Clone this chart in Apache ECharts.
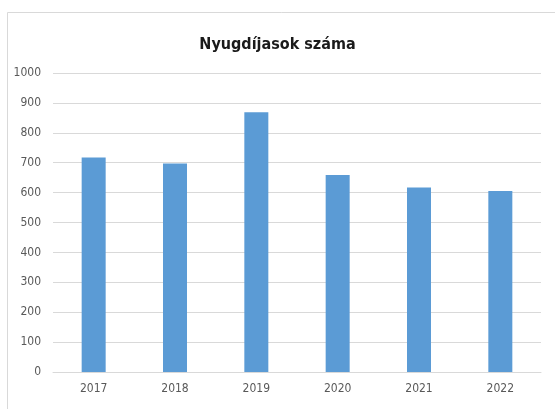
<!DOCTYPE html>
<html>
<head>
<meta charset="utf-8">
<script src="https://cdn.jsdelivr.net/npm/echarts@6/dist/echarts.min.js"></script>
<style>
  html, body { margin: 0; padding: 0; background: #fff; }
  #chart { width: 555px; height: 409px; }
</style>
</head>
<body>
<div id="chart"></div>
<script>
var years = ['2017', '2018', '2019', '2020', '2021', '2022'];
var values = [717, 697, 869, 659, 617, 605];

var font = "'Liberation Sans Narrow', 'DejaVu Sans Condensed', sans-serif";
var myChart = echarts.init(document.getElementById('chart'));
var option = {
  animation: false,
  backgroundColor: '#fff',
  title: {
    text: 'Nyugdíjasok száma',
    left: 'center',
    top: 32,
    textStyle: { fontFamily: font, fontSize: 16, fontWeight: 'bold', color: '#1a1a1a' }
  },
  graphic: [{
    type: 'rect',
    shape: { x: 7.5, y: 12.5, width: 560, height: 420 },
    style: { fill: 'none', stroke: '#d9d9d9', lineWidth: 1 }
  }],
  grid: { left: 53, right: 14, top: 73, bottom: 37 },
  xAxis: {
    type: 'category',
    data: years,
    axisLine: { lineStyle: { color: '#d9d9d9' } },
    axisTick: { show: false },
    axisLabel: { color: '#595959', fontFamily: font, fontSize: 12, margin: 11 }
  },
  yAxis: {
    type: 'value',
    min: 0,
    max: 1000,
    interval: 100,
    axisLine: { show: false },
    axisTick: { show: false },
    splitLine: { lineStyle: { color: '#d9d9d9' } },
    axisLabel: {
      color: '#595959', fontFamily: font, fontSize: 12, margin: 12,
      formatter: function (v) { return String(v); }
    }
  },
  series: [{
    type: 'bar',
    data: values,
    barWidth: 24,
    itemStyle: { color: '#5b9bd5' }
  }]
};
myChart.setOption(option);
</script>
</body>
</html>
